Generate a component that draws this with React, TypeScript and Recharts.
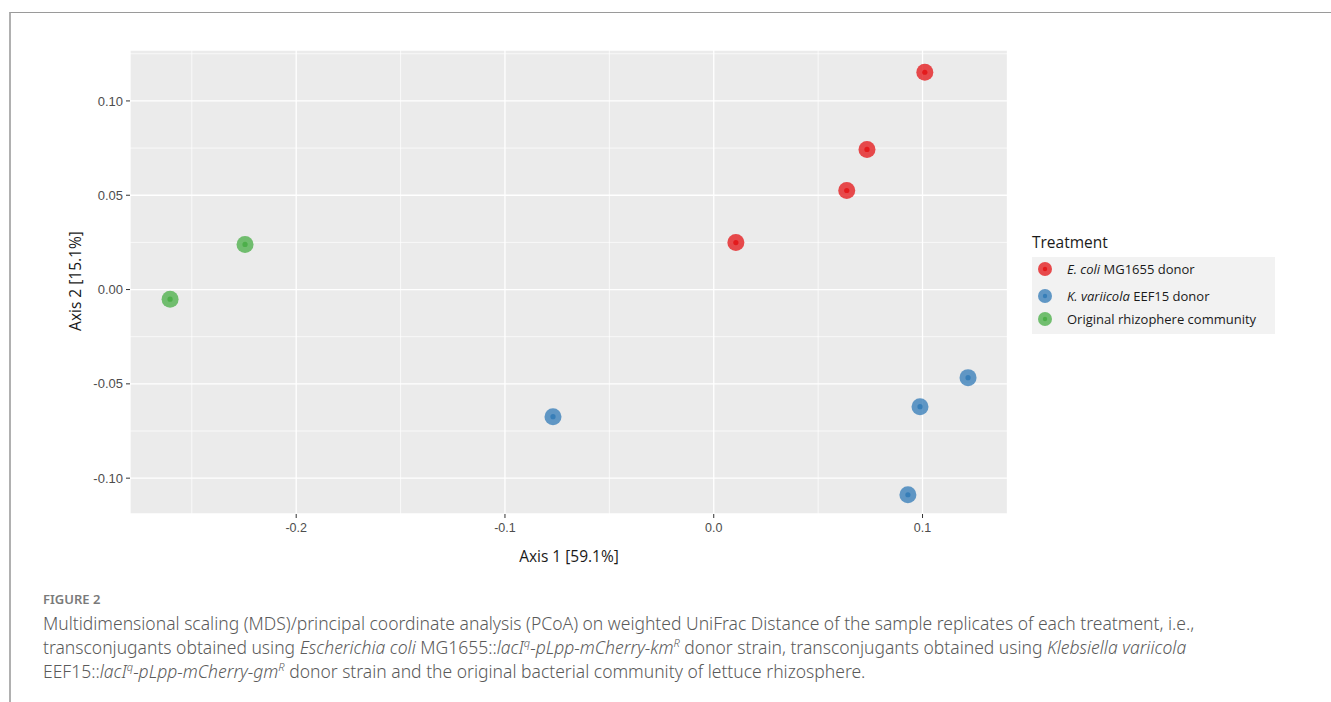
import {
  ScatterChart,
  Scatter,
  XAxis,
  YAxis,
  CartesianGrid,
  ReferenceLine,
} from "recharts";

// PCoA coordinates (Axis 1, Axis 2)
const ecoliPoints = [
  { x: 0.1011, y: 0.1152 },
  { x: 0.0734, y: 0.0743 },
  { x: 0.0637, y: 0.0525 },
  { x: 0.0106, y: 0.0249 },
];
const kvariicolaPoints = [
  { x: -0.077, y: -0.0674 },
  { x: 0.1218, y: -0.0467 },
  { x: 0.0988, y: -0.0621 },
  { x: 0.093, y: -0.1088 },
];
const originalPoints = [
  { x: -0.2245, y: 0.0239 },
  { x: -0.2604, y: -0.0051 },
];

const X_TICKS = [-0.2, -0.1, 0, 0.1];
const Y_TICKS = [-0.1, -0.05, 0, 0.05, 0.1];
const X_MINOR = [-0.25, -0.15, -0.05, 0.05];
const Y_MINOR = [-0.075, -0.025, 0.025, 0.075, 0.125];
const X_DOMAIN = [-0.2796, 0.1407];
const Y_DOMAIN = [-0.119, 0.127];

const COLORS = {
  ecoli: "#e41a1c",
  kv: "#377eb8",
  orig: "#4daf4a",
};

const TICK_STYLE = { fontSize: 13, fill: "#4d4d4d", fontFamily: "Liberation Sans, Arial, sans-serif" };
const LABEL_FONT = "'Open Sans', 'Noto Sans', sans-serif";
const CAPTION_FONT = "'Noto Sans', 'Open Sans', sans-serif";

function dot(color: string) {
  return (p: { cx?: number; cy?: number }) => (
    <g>
      <circle cx={p.cx} cy={p.cy} r={8.5} fill={color} fillOpacity={0.78} />
      <circle cx={p.cx} cy={p.cy} r={2.6} fill={color} />
    </g>
  );
}

function LegendDot({ color }: { color: string }) {
  return (
    <svg width={18} height={18} style={{ position: "absolute", left: 4, top: 3 }}>
      <circle cx={9} cy={9} r={7} fill={color} fillOpacity={0.78} />
      <circle cx={9} cy={9} r={2.2} fill={color} />
    </svg>
  );
}

const supStyle = { fontSize: 11, lineHeight: 0 };

export default function App() {
  const legendRow = { position: "relative" as const, height: 25, paddingLeft: 35, lineHeight: "24px" };
  return (
    <div style={{ position: "absolute", left: 0, top: 0, width: 1331, height: 702, background: "#fff", overflow: "hidden" }}>
      {/* page frame */}
      <div style={{ position: "absolute", left: 9, top: 12, width: 1340, height: 720, borderTop: "1.5px solid #9a9a9a", borderLeft: "2px solid #b0b0b0" }} />

      <div style={{ position: "absolute", left: 0, top: 0 }}>
        <ScatterChart width={1020} height={580} margin={{ top: 50, right: 12.5, bottom: 36, left: 70 }}>
          <CartesianGrid fill="#ebebeb" stroke="#ffffff" strokeWidth={1.3} />
          {X_MINOR.map((v) => (
            <ReferenceLine key={`vx${v}`} x={v} stroke="#ffffff" strokeWidth={0.7} />
          ))}
          {Y_MINOR.map((v) => (
            <ReferenceLine key={`hy${v}`} y={v} stroke="#ffffff" strokeWidth={0.7} />
          ))}
          <XAxis
            type="number"
            dataKey="x"
            domain={X_DOMAIN}
            ticks={X_TICKS}
            allowDataOverflow
            axisLine={false}
            tickLine={{ stroke: "#333" }}
            tickSize={4}
            tickMargin={5}
            height={30}
            tick={{ ...TICK_STYLE, fontSize: 12.5, fontFamily: "Liberation Sans Narrow, Liberation Sans, sans-serif" }}
            tickFormatter={(v: number) => v.toFixed(1)}
          />
          <YAxis
            type="number"
            dataKey="y"
            domain={Y_DOMAIN}
            ticks={Y_TICKS}
            allowDataOverflow
            axisLine={false}
            tickLine={{ stroke: "#333" }}
            tickSize={4}
            tickMargin={3}
            width={60}
            tick={TICK_STYLE}
            tickFormatter={(v: number) => v.toFixed(2)}
          />
          <Scatter name="E. coli MG1655 donor" data={ecoliPoints} shape={dot(COLORS.ecoli)} isAnimationActive={false} />
          <Scatter name="K. variicola EEF15 donor" data={kvariicolaPoints} shape={dot(COLORS.kv)} isAnimationActive={false} />
          <Scatter name="Original rhizophere community" data={originalPoints} shape={dot(COLORS.orig)} isAnimationActive={false} />
        </ScatterChart>
      </div>

      {/* axis titles */}
      <div style={{ position: "absolute", left: 469, width: 200, top: 545, textAlign: "center", fontFamily: LABEL_FONT, fontSize: 15.5, color: "#1a1a1a" }}>
        Axis 1 [59.1%]
      </div>
      <div style={{ position: "absolute", left: -25, width: 200, top: 270, textAlign: "center", fontFamily: LABEL_FONT, fontSize: 15.5, color: "#1a1a1a", transform: "rotate(-90deg)" }}>
        Axis 2 [15.1%]
      </div>

      {/* legend */}
      <div style={{ position: "absolute", left: 1032, top: 231, fontFamily: LABEL_FONT, fontSize: 15.5, color: "#1a1a1a" }}>Treatment</div>
      <div style={{ position: "absolute", left: 1032, top: 257, width: 243, height: 77, background: "#f2f2f2", fontFamily: LABEL_FONT, fontSize: 13, color: "#1a1a1a" }}>
        <div style={{ ...legendRow, top: 0 }}>
          <LegendDot color={COLORS.ecoli} />
          <i>E. coli</i> MG1655 donor
        </div>
        <div style={{ ...legendRow, top: 2 }}>
          <LegendDot color={COLORS.kv} />
          <i>K. variicola</i> EEF15 donor
        </div>
        <div style={{ ...legendRow, top: 0 }}>
          <LegendDot color={COLORS.orig} />
          Original rhizophere community
        </div>
      </div>

      {/* caption */}
      <div style={{ position: "absolute", left: 43, top: 590, fontFamily: CAPTION_FONT, fontSize: 13, fontWeight: 600, color: "#7a7a7a" }}>
        FIGURE 2
      </div>
      <div style={{ position: "absolute", left: 43, top: 611, width: 1285, fontFamily: CAPTION_FONT, fontSize: 17.5, fontWeight: 300, lineHeight: "24px", color: "#5a5a5a", whiteSpace: "nowrap" }}>
        Multidimensional scaling (MDS)/principal coordinate analysis (PCoA) on weighted UniFrac Distance of the sample replicates of each treatment, i.e.,
        <br />
        transconjugants obtained using <i>Escherichia coli</i> MG1655::<i>lacI<sup style={supStyle}>q</sup>-pLpp-mCherry-km<sup style={supStyle}>R</sup></i> donor strain, transconjugants obtained using <i>Klebsiella variicola</i>
        <br />
        EEF15::<i>lacI<sup style={supStyle}>q</sup>-pLpp-mCherry-gm<sup style={supStyle}>R</sup></i> donor strain and the original bacterial community of lettuce rhizosphere.
      </div>
    </div>
  );
}
